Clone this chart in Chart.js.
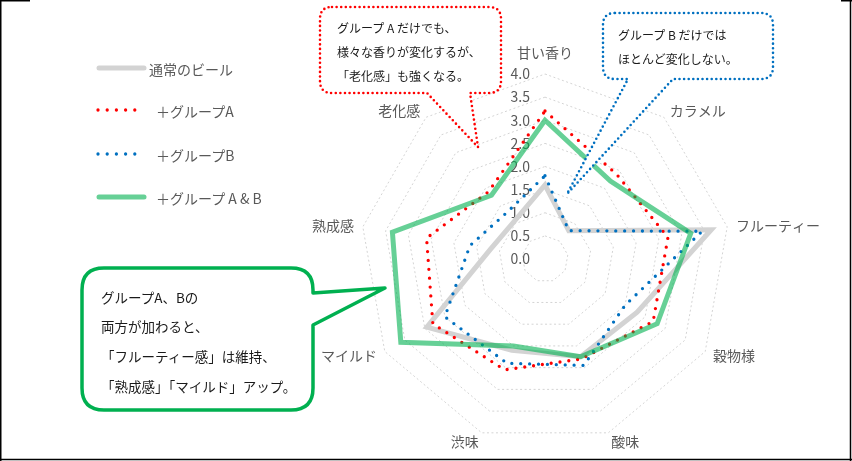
<!DOCTYPE html>
<html lang="ja">
<head>
<meta charset="utf-8">
<script src="https://cdn.jsdelivr.net/npm/chart.js@4.4.1/dist/chart.umd.min.js"></script>
<style>
  html, body { margin: 0; padding: 0; background: #fff; }
  #wrap { position: relative; width: 852px; height: 461px; overflow: hidden; }
  #radar { position: absolute; left: 0; top: 0; }
  #overlay { position: absolute; left: 0; top: 0; pointer-events: none; }
  #overlay text { font-family: "Noto Sans CJK JP", "Noto Sans", sans-serif; }
</style>
</head>
<body>
<div id="wrap">
  <canvas id="radar" width="852" height="461"></canvas>
  <svg id="overlay" width="852" height="461" viewBox="0 0 852 461">
    <!-- cadre -->
    <g stroke="#000" stroke-width="1.5" fill="none">
      <line x1="0.75" y1="0" x2="0.75" y2="461"/>
      <line x1="0" y1="459.5" x2="852" y2="459.5"/>
      <line x1="850.5" y1="0" x2="850.5" y2="461"/>
      <line x1="0" y1="0.75" x2="30" y2="0.75"/>
      <line x1="841" y1="0.75" x2="852" y2="0.75"/>
    </g>

    <!-- légende -->
    <g stroke-linecap="round" fill="none">
      <line x1="99" y1="68" x2="144" y2="68" stroke="#d3d3d3" stroke-width="5"/>
      <line x1="98" y1="110" x2="136" y2="110" stroke="#ff0000" stroke-width="3.3" stroke-dasharray="0 9.2"/>
      <line x1="98" y1="154" x2="136" y2="154" stroke="#0070c0" stroke-width="3.3" stroke-dasharray="0 9.2"/>
      <line x1="99" y1="197" x2="144" y2="197" stroke="rgba(0,176,80,0.6)" stroke-width="5"/>
    </g>
    <g font-size="14" fill="#595959" dominant-baseline="central">
      <text x="149" y="69">通常のビール</text>
      <text x="156" y="111">＋グループA</text>
      <text x="156" y="155">＋グループB</text>
      <text x="156" y="198">＋グループ A &amp; B</text>
    </g>

    <!-- bulle rouge -->
    <path d="M332,7 H489 Q501,7 501,19 V81 Q501,93 489,93 H470 L478,147 L427,93 H332 Q320,93 320,81 V19 Q320,7 332,7 Z"
          fill="#fff" stroke="#ff0000" stroke-width="2.6" stroke-linecap="round" stroke-dasharray="0 4.6"/>
    <g font-size="12" fill="#1a1a1a" dominant-baseline="central">
      <text x="337" y="27">グループ A だけでも、</text>
      <text x="337" y="51">様々な香りが変化するが、</text>
      <text x="337" y="75">「老化感」も強くなる。</text>
    </g>

    <!-- bulle bleue -->
    <path d="M615,13 H761 Q773,13 773,25 V67 Q773,79 761,79 H673 L567,194 L628,79 H615 Q603,79 603,67 V25 Q603,13 615,13 Z"
          fill="#fff" stroke="#0070c0" stroke-width="2.6" stroke-linecap="round" stroke-dasharray="0 4.6"/>
    <g font-size="12" fill="#1a1a1a" dominant-baseline="central">
      <text x="618" y="34">グループ B だけでは</text>
      <text x="618" y="58">ほとんど変化しない。</text>
    </g>

    <!-- bulle verte -->
    <path d="M104,268 H291 Q313,268 313,290 V293 L385,288 L313,325 V388 Q313,410 291,410 H104 Q82,410 82,388 V290 Q82,268 104,268 Z"
          fill="#fff" stroke="#00b050" stroke-width="3.5" stroke-linejoin="round"/>
    <g font-size="13.5" fill="#1a1a1a" dominant-baseline="central">
      <text x="101" y="297">グループA、Bの</text>
      <text x="101" y="326">両方が加わると、</text>
      <text x="101" y="356">「フルーティー感」は維持、</text>
      <text x="101" y="386">「熟成感」「マイルド」アップ。</text>
    </g>
  </svg>
</div>

<script>
// données

const categories = ["甘い香り", "カラメル", "フルーティー", "穀物様", "酸味", "渋味", "マイルド", "熟成感", "老化感"];

const normalBeer = [1.6, 0.8, 3.65, 2.3, 2.25, 2.1, 2.95, 1.2, 1.05];
const groupA     = [3.2, 2.4, 2.7, 2.7, 2.3, 2.55, 2.8, 2.6, 1.9];
const groupB     = [1.8, 0.8, 3.45, 2.0, 2.45, 2.4, 2.5, 1.65, 1.3];
const groupAB    = [3.0, 2.2, 3.2, 2.8, 2.25, 2.0, 3.6, 3.35, 1.8];

const seriesNames = ["通常のビール", "＋グループA", "＋グループB", "＋グループ A & B"];
const tickValues = [0, 0.5, 1, 1.5, 2, 2.5, 3, 3.5, 4];

const fontFamily = "'Noto Sans CJK JP', 'Noto Sans', sans-serif";

// textes de l'axe : graduations et noms des catégories
const radarText = {
  id: "radarText",
  beforeDatasetsDraw(chart) {
    const scale = chart.scales.r;
    const ctx = chart.ctx;
    ctx.save();
    ctx.font = "14px " + fontFamily;
    ctx.fillStyle = "#595959";

    ctx.textAlign = "right";
    ctx.textBaseline = "middle";
    tickValues.forEach((v) => {
      const y = scale.yCenter - scale.getDistanceFromCenterForValue(v);
      ctx.fillText(v.toFixed(1), scale.xCenter - 15, y);
    });

    categories.forEach((name, i) => {
      const p = scale.getPointPosition(i, scale.drawingArea + (i === 0 ? 14 : 9));
      if (i === 0) {
        ctx.textAlign = "center";
        ctx.textBaseline = "bottom";
      } else {
        ctx.textAlign = i <= 4 ? "left" : "right";
        ctx.textBaseline = "middle";
      }
      ctx.fillText(name, p.x, p.y);
    });
    ctx.restore();
  }
};

const dotted = { borderWidth: 3.3, borderDash: [0, 8.9], borderCapStyle: "round" };

const canvas = document.querySelector("#radar");

new Chart(canvas.getContext("2d"), {
  type: "radar",
  data: {
    labels: categories,
    datasets: [
      {
        label: seriesNames[0],
        data: normalBeer,
        borderColor: "#d3d3d3",
        borderWidth: 5,
        order: 3
      },
      {
        label: seriesNames[1],
        data: groupA,
        borderColor: "#ff0000",
        ...dotted,
        order: 2
      },
      {
        label: seriesNames[2],
        data: groupB,
        borderColor: "#0070c0",
        ...dotted,
        order: 1
      },
      {
        label: seriesNames[3],
        data: groupAB,
        borderColor: "rgba(0, 176, 80, 0.6)",
        borderWidth: 5,
        order: 0
      }
    ]
  },
  options: {
    responsive: false,
    animation: false,
    layout: { padding: { left: 360, right: 122, top: 74, bottom: 17 } },
    elements: {
      point: { radius: 0, hoverRadius: 0 },
      line: { fill: false, tension: 0, borderJoinStyle: "miter" }
    },
    plugins: {
      legend: { display: false },
      tooltip: { enabled: false }
    },
    scales: {
      r: {
        min: 0,
        max: 4,
        ticks: { stepSize: 0.5, display: false },
        grid: { color: "#d4d4d4", lineWidth: 1 },
        border: { dash: [2, 2.5] },
        angleLines: { display: false },
        pointLabels: { display: false }
      }
    }
  },
  plugins: [radarText]
});
</script>
</body>
</html>
